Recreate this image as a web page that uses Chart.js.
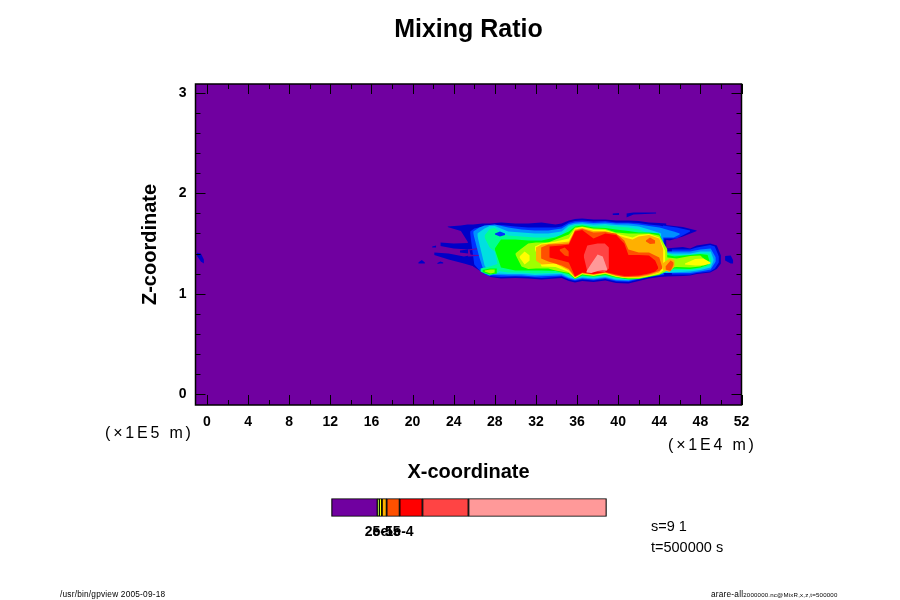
<!DOCTYPE html>
<html>
<head>
<meta charset="utf-8">
<title>Mixing Ratio</title>
<script src="https://cdn.jsdelivr.net/npm/chart.js@4"></script>
<style>
  html, body { margin: 0; padding: 0; background: #fff; }
  canvas { position: absolute; }
  .note { position: absolute; color: #000; white-space: nowrap; font-family: "Liberation Sans", sans-serif; }
  .unit { font-size: 16px; letter-spacing: 2.8px; font-weight: normal; }
  .info { font-size: 14.5px; }
  .tiny { font-size: 8.3px; letter-spacing: 0.2px; }
</style>
</head>
<body>
<canvas id="mainChart" width="900" height="600" style="left:0;top:0"></canvas>
<canvas id="barChart" width="300" height="50" style="left:320px;top:490px"></canvas>
<div class="note unit" style="left:105px;top:424px">(×1E5 m)</div>
<div class="note unit" style="left:668px;top:436px">(×1E4 m)</div>
<div class="note info" style="left:651px;top:518px">s=9 1</div>
<div class="note info" style="left:651px;top:539px">t=500000 s</div>
<div class="note tiny" style="left:60px;top:589px">/usr/bin/gpview 2005-09-18</div>
<div class="note tiny" style="left:711px;top:589px">arare-all<span style="font-size:6.1px">2000000.nc@MixR,x,z,t=500000</span></div>
<script>
// axis ticks, x in 1E4 m and z in 1E5 m
var xTicks = [0, 4, 8, 12, 16, 20, 24, 28, 32, 36, 40, 44, 48, 52];
var xMinor = [2, 6, 10, 14, 18, 22, 26, 30, 34, 38, 42, 46, 50];
var zTicks = [0, 1, 2, 3];
var zMinor = [0.2, 0.4, 0.6, 0.8, 1.2, 1.4, 1.6, 1.8, 2.2, 2.4, 2.6, 2.8];

// background level covers the whole domain
var bgX = [-1.12, 52];
var bgTop = [3.09, 3.09];
var bgBot = [-0.11, -0.11];

// contour levels: x, upper edge, lower edge
var l1X = [23.4, 24.7, 25.35, 25.9, 26.8, 27.6, 28.6, 30, 31.25, 32.55, 33.9, 34.5, 35.2, 35.8, 36.5, 37.6, 38.75, 39.8, 41, 42, 43, 44, 44.7];
var l1Top = [1.67, 1.68, 1.69, 1.69, 1.70, 1.70, 1.71, 1.70, 1.70, 1.71, 1.69, 1.70, 1.73, 1.745, 1.75, 1.74, 1.74, 1.73, 1.73, 1.725, 1.71, 1.705, 1.70];
var l1Bot = [1.665, 1.625, 1.52, 1.27, 1.21, 1.165, 1.15, 1.155, 1.15, 1.14, 1.15, 1.155, 1.125, 1.11, 1.125, 1.115, 1.13, 1.105, 1.10, 1.125, 1.15, 1.165, 1.17];
var l1WedgeX = [44, 45, 46.3, 47.65];
var l1WedgeTop = [1.69, 1.68, 1.665, 1.63];
var l1WedgeBot = [1.55, 1.53, 1.57, 1.625];
var l1LobeX = [44.6, 46.3, 47, 47.65, 48.95, 49.6, 50];
var l1LobeTop = [1.45, 1.465, 1.45, 1.48, 1.50, 1.48, 1.38];
var l1LobeBot = [1.17, 1.175, 1.18, 1.195, 1.21, 1.245, 1.30];

// thin fingers and small islands of the lowest level
var f1X = [22.7, 24, 25.4, 26.8];
var f1Top = [1.51, 1.50, 1.505, 1.52];
var f1Bot = [1.475, 1.45, 1.44, 1.45];
var f2X = [22.1, 23.5, 25, 26];
var f2Top = [1.41, 1.40, 1.37, 1.39];
var f2Bot = [1.385, 1.34, 1.30, 1.27];
var f3X = [24.6, 25.4];
var f3Top = [1.43, 1.44];
var f3Bot = [1.41, 1.40];
var d1X = [21.9, 22.3];
var d1Top = [1.47, 1.48];
var d1Bot = [1.46, 1.46];
var d2X = [20.55, 20.9, 21.2];
var d2Top = [1.31, 1.335, 1.31];
var d2Bot = [1.30, 1.30, 1.30];
var d3X = [22.4, 22.7, 23];
var d3Top = [1.305, 1.32, 1.31];
var d3Bot = [1.295, 1.30, 1.30];
var d4X = [40.8, 41.5, 43.7];
var d4Top = [1.80, 1.81, 1.81];
var d4Bot = [1.76, 1.79, 1.80];
var d5X = [39.45, 40.1];
var d5Top = [1.80, 1.805];
var d5Bot = [1.785, 1.785];
var d6X = [50.4, 50.95, 51.2];
var d6Top = [1.375, 1.38, 1.33];
var d6Bot = [1.33, 1.30, 1.30];
var d7X = [-1, -0.6, -0.3];
var d7Top = [1.41, 1.40, 1.34];
var d7Bot = [1.38, 1.32, 1.30];

var l2X = [25.6, 26, 26.65, 27.3, 28.6, 30, 31.25, 32.55, 33.9, 34.5, 35.2, 35.8, 36.5, 37.6, 38.75, 39.8, 41, 42, 43, 44, 44.5];
var l2Top = [1.62, 1.65, 1.665, 1.675, 1.685, 1.67, 1.66, 1.66, 1.66, 1.67, 1.71, 1.725, 1.73, 1.72, 1.725, 1.71, 1.71, 1.705, 1.69, 1.68, 1.67];
var l2Bot = [1.60, 1.29, 1.215, 1.175, 1.165, 1.17, 1.165, 1.155, 1.165, 1.17, 1.14, 1.125, 1.14, 1.13, 1.145, 1.12, 1.115, 1.14, 1.165, 1.18, 1.185];
var l2WedgeX = [44.35, 45.7, 47];
var l2WedgeTop = [1.68, 1.66, 1.63];
var l2WedgeBot = [1.55, 1.55, 1.62];
var l2LobeX = [45.2, 47, 47.65, 48.95, 49.4, 49.8];
var l2LobeTop = [1.44, 1.44, 1.46, 1.485, 1.47, 1.37];
var l2LobeBot = [1.19, 1.19, 1.205, 1.22, 1.25, 1.31];

// purple slits between the fingers
var slitAX = [25.4, 26.5, 26.9];
var slitATop = [1.44, 1.455, 1.46];
var slitABot = [1.43, 1.445, 1.455];
var slitBX = [25.4, 26.3, 26.9];
var slitBTop = [1.39, 1.385, 1.38];
var slitBBot = [1.37, 1.375, 1.375];

var l3X = [25.9, 26.5, 27, 28, 29.3, 30.6, 31.9, 33.2, 34.5, 35.2, 35.8, 36.5, 37.6, 38.75, 39.8, 41, 42, 43, 44, 44.4];
var l3Top = [1.62, 1.66, 1.68, 1.69, 1.66, 1.64, 1.63, 1.63, 1.65, 1.695, 1.71, 1.715, 1.705, 1.71, 1.70, 1.70, 1.69, 1.675, 1.66, 1.65];
var l3Bot = [1.60, 1.36, 1.20, 1.185, 1.18, 1.18, 1.17, 1.175, 1.18, 1.15, 1.135, 1.15, 1.14, 1.155, 1.13, 1.125, 1.15, 1.175, 1.19, 1.195];
var l3WedgeX = [44.35, 45.4, 46];
var l3WedgeTop = [1.65, 1.62, 1.60];
var l3WedgeBot = [1.56, 1.56, 1.59];
var l3LobeX = [44.6, 47, 48, 49, 49.5];
var l3LobeTop = [1.42, 1.42, 1.44, 1.45, 1.36];
var l3LobeBot = [1.205, 1.205, 1.22, 1.24, 1.32];

var l4X = [26.3, 27, 27.5, 28, 29.3, 30.6, 31.9, 33.2, 34.5, 35.2, 35.8, 36.5, 37.6, 38.75, 39.8, 41, 42, 43, 44.2];
var l4Top = [1.60, 1.65, 1.675, 1.675, 1.62, 1.61, 1.60, 1.60, 1.62, 1.68, 1.695, 1.70, 1.69, 1.695, 1.685, 1.68, 1.67, 1.64, 1.60];
var l4Bot = [1.58, 1.28, 1.205, 1.20, 1.195, 1.195, 1.185, 1.19, 1.195, 1.16, 1.145, 1.16, 1.15, 1.165, 1.14, 1.135, 1.16, 1.185, 1.205];
var l4LobeX = [44.2, 47, 48, 49, 49.3];
var l4LobeTop = [1.40, 1.40, 1.42, 1.42, 1.34];
var l4LobeBot = [1.205, 1.22, 1.235, 1.26, 1.33];

var l5X = [27, 27.5, 28, 28.4, 29.3, 30.6, 31.9, 33.2, 34.5, 35.2, 35.8, 36.5, 37.6, 38.75, 39.8, 41, 42, 43, 44];
var l5Top = [1.58, 1.645, 1.655, 1.62, 1.58, 1.57, 1.56, 1.56, 1.58, 1.66, 1.685, 1.69, 1.675, 1.68, 1.67, 1.66, 1.64, 1.60, 1.50];
var l5Bot = [1.56, 1.46, 1.42, 1.225, 1.21, 1.21, 1.20, 1.205, 1.205, 1.175, 1.155, 1.17, 1.16, 1.175, 1.15, 1.145, 1.165, 1.195, 1.215];
var l5LobeX = [44, 45.5, 47, 48, 48.9, 49.1];
var l5LobeTop = [1.43, 1.385, 1.385, 1.40, 1.40, 1.32];
var l5LobeBot = [1.215, 1.235, 1.235, 1.25, 1.275, 1.33];
var l5SpotX = [26.6, 27.5, 28.4];
var l5SpotTop = [1.25, 1.27, 1.30];
var l5SpotBot = [1.22, 1.18, 1.215];

var l6X = [28, 28.6, 30, 31.25, 32.55, 33.9, 35.2, 35.8, 36.5, 37.6, 38.75, 39.8, 41, 42, 43, 44, 44.6];
var l6Top = [1.45, 1.54, 1.54, 1.53, 1.53, 1.56, 1.62, 1.67, 1.68, 1.66, 1.655, 1.64, 1.625, 1.61, 1.61, 1.60, 1.46];
var l6Bot = [1.44, 1.26, 1.23, 1.23, 1.23, 1.225, 1.195, 1.145, 1.18, 1.17, 1.185, 1.16, 1.14, 1.145, 1.165, 1.185, 1.22];
var l6LobeX = [44, 45.5, 47, 48, 48.7, 48.9];
var l6LobeTop = [1.40, 1.37, 1.385, 1.395, 1.385, 1.32];
var l6LobeBot = [1.23, 1.25, 1.245, 1.26, 1.285, 1.33];
var l6SpotX = [26.8, 27.5, 28.2];
var l6SpotTop = [1.235, 1.25, 1.25];
var l6SpotBot = [1.215, 1.19, 1.20];
var pocketX = [28, 28.5, 29];
var pocketTop = [1.60, 1.62, 1.60];
var pocketBot = [1.59, 1.57, 1.585];

var l7X = [30, 30.6, 31.25, 32, 33.2, 33.9, 35.2, 35.8, 36.5, 37.6, 38.75, 39.8, 41, 42, 43, 44, 44.8];
var l7Top = [1.40, 1.45, 1.50, 1.51, 1.51, 1.54, 1.59, 1.66, 1.67, 1.65, 1.645, 1.61, 1.60, 1.60, 1.60, 1.58, 1.44];
var l7Bot = [1.39, 1.27, 1.245, 1.25, 1.25, 1.23, 1.205, 1.15, 1.19, 1.175, 1.195, 1.165, 1.15, 1.15, 1.17, 1.19, 1.23];
var l7LobeX = [44, 45.7, 47, 48, 48.5];
var l7LobeTop = [1.37, 1.35, 1.375, 1.38, 1.33];
var l7LobeBot = [1.245, 1.265, 1.26, 1.27, 1.30];
var l7SpotX = [27, 27.6, 28];
var l7SpotTop = [1.23, 1.24, 1.24];
var l7SpotBot = [1.22, 1.20, 1.21];

var l8X = [31.9, 32.55, 33.9, 35.2, 35.8, 36.5, 37.6, 38.75, 39.8, 40.6, 41.4, 42, 43, 44, 44.6];
var l8Top = [1.47, 1.50, 1.52, 1.55, 1.65, 1.665, 1.64, 1.635, 1.60, 1.58, 1.56, 1.585, 1.595, 1.56, 1.42];
var l8Bot = [1.44, 1.27, 1.265, 1.215, 1.155, 1.195, 1.18, 1.20, 1.17, 1.155, 1.155, 1.155, 1.175, 1.20, 1.25];
var l8SpotX = [30.4, 30.9, 31.4];
var l8SpotTop = [1.37, 1.42, 1.38];
var l8SpotBot = [1.36, 1.29, 1.33];
var l8LobeX = [46.5, 47.5, 48.3, 49];
var l8LobeTop = [1.30, 1.345, 1.35, 1.31];
var l8LobeBot = [1.29, 1.28, 1.28, 1.30];

var l9X = [32, 32.55, 33.9, 35.2, 35.8, 36.5, 37.6, 38.75, 39.8, 40.6, 41.4, 42, 43, 44, 44.4];
var l9Top = [1.46, 1.49, 1.505, 1.52, 1.64, 1.655, 1.625, 1.625, 1.59, 1.56, 1.54, 1.57, 1.585, 1.55, 1.44];
var l9Bot = [1.33, 1.29, 1.30, 1.23, 1.16, 1.20, 1.185, 1.205, 1.175, 1.16, 1.16, 1.16, 1.18, 1.21, 1.27];
var l9StripeX = [44.3, 45, 45.5];
var l9StripeTop = [1.30, 1.35, 1.33];
var l9StripeBot = [1.24, 1.215, 1.27];

var l10X = [32.5, 33.2, 34.5, 35.2, 35.8, 36.5, 37.6, 38.75, 39.8, 40.6, 41, 42, 43, 44, 44.3];
var l10Top = [1.46, 1.49, 1.495, 1.50, 1.63, 1.648, 1.61, 1.615, 1.60, 1.53, 1.44, 1.41, 1.41, 1.36, 1.26];
var l10Bot = [1.35, 1.32, 1.28, 1.245, 1.165, 1.205, 1.19, 1.21, 1.18, 1.165, 1.165, 1.17, 1.19, 1.225, 1.25];
var l10StripeX = [44.6, 45.1, 45.4];
var l10StripeTop = [1.27, 1.33, 1.31];
var l10StripeBot = [1.24, 1.225, 1.29];
var l10PatchX = [42.7, 43.1, 43.6];
var l10PatchTop = [1.53, 1.56, 1.53];
var l10PatchBot = [1.52, 1.495, 1.50];

var l11X = [33.3, 34.5, 35.2, 35.8, 36.5, 37.6, 38.75, 39.8, 40.6, 41, 42, 43, 43.6, 43.9];
var l11Top = [1.47, 1.48, 1.49, 1.62, 1.635, 1.55, 1.60, 1.585, 1.50, 1.385, 1.385, 1.38, 1.33, 1.26];
var l11Bot = [1.36, 1.33, 1.31, 1.17, 1.21, 1.195, 1.215, 1.19, 1.175, 1.175, 1.18, 1.20, 1.22, 1.25];
var armX = [34.3, 34.8, 35.2];
var armTop = [1.44, 1.46, 1.42];
var armBot = [1.43, 1.38, 1.37];

var l12X = [36.65, 37, 38, 38.7, 39.1];
var l12Top = [1.38, 1.48, 1.50, 1.50, 1.46];
var l12Bot = [1.37, 1.22, 1.22, 1.215, 1.25];

var l13X = [36.9, 37.4, 38, 38.5, 38.95];
var l13Top = [1.22, 1.30, 1.39, 1.37, 1.24];
var l13Bot = [1.21, 1.205, 1.225, 1.235, 1.23];

// colour bar edges, same level order
var barEdges = [-1.62e-4, 1.5e-5, 2.1e-5, 3.2e-5, 5e-5, 1e-4, 1.88e-4, 3.65e-4, 8.96e-4];
var barColors = ['#7000a0', '#a0ff00', '#ffff00', '#ffb000', '#ff5000', '#ff0000', '#ff4444', '#ff9999'];
var barTicks = [2e-5, 5e-5, 1e-4];
var barLabels = ['2e-5', '5e-5', '1e-4'];

var purple = '#7000a0', c1 = '#0000c8', c2 = '#0030ff', c3 = '#0090ff', c4 = '#00e0e0', c5 = '#00ff90',
    c6 = '#00ff00', c7 = '#a0ff00', c8 = '#ffff00', c9 = '#ffb000', c10 = '#ff5000', c11 = '#ff0000', c12 = '#ff4444', c13 = '#ff9999';

// painted in this order, each level over the one below
var bands = [
  [purple, bgX, bgTop, bgBot],
  [c1, l1X, l1Top, l1Bot], [c1, l1WedgeX, l1WedgeTop, l1WedgeBot], [c1, l1LobeX, l1LobeTop, l1LobeBot],
  [c1, f1X, f1Top, f1Bot], [c1, f2X, f2Top, f2Bot], [c1, f3X, f3Top, f3Bot],
  [c1, d1X, d1Top, d1Bot], [c1, d2X, d2Top, d2Bot], [c1, d3X, d3Top, d3Bot], [c1, d4X, d4Top, d4Bot],
  [c1, d5X, d5Top, d5Bot], [c1, d6X, d6Top, d6Bot], [c1, d7X, d7Top, d7Bot],
  [c2, l2X, l2Top, l2Bot], [c2, l2WedgeX, l2WedgeTop, l2WedgeBot], [c2, l2LobeX, l2LobeTop, l2LobeBot],
  [purple, slitAX, slitATop, slitABot], [purple, slitBX, slitBTop, slitBBot],
  [c3, l3X, l3Top, l3Bot], [c3, l3WedgeX, l3WedgeTop, l3WedgeBot], [c3, l3LobeX, l3LobeTop, l3LobeBot],
  [c4, l4X, l4Top, l4Bot], [c4, l4LobeX, l4LobeTop, l4LobeBot],
  [c5, l5X, l5Top, l5Bot], [c5, l5LobeX, l5LobeTop, l5LobeBot], [c5, l5SpotX, l5SpotTop, l5SpotBot],
  [c6, l6X, l6Top, l6Bot], [c6, l6LobeX, l6LobeTop, l6LobeBot], [c6, l6SpotX, l6SpotTop, l6SpotBot],
  [c2, pocketX, pocketTop, pocketBot],
  [c7, l7X, l7Top, l7Bot], [c7, l7LobeX, l7LobeTop, l7LobeBot], [c7, l7SpotX, l7SpotTop, l7SpotBot],
  [c8, l8X, l8Top, l8Bot], [c8, l8SpotX, l8SpotTop, l8SpotBot], [c8, l8LobeX, l8LobeTop, l8LobeBot],
  [c9, l9X, l9Top, l9Bot], [c9, l9StripeX, l9StripeTop, l9StripeBot],
  [c10, l10X, l10Top, l10Bot], [c10, l10StripeX, l10StripeTop, l10StripeBot], [c10, l10PatchX, l10PatchTop, l10PatchBot],
  [c11, l11X, l11Top, l11Bot], [c10, armX, armTop, armBot],
  [c12, l12X, l12Top, l12Bot],
  [c13, l13X, l13Top, l13Bot]
];

function toPoints(xs, zs) {
  var pts = [];
  for (var i = 0; i < xs.length; i++) pts.push({ x: xs[i], y: zs[i] });
  return pts;
}

var datasets = [];
bands.forEach(function (b, i) {
  // upper edge fills down to the lower edge, which is the next dataset
  datasets.push({ data: toPoints(b[1], b[2]), showLine: true, borderWidth: 0, pointRadius: 0, fill: '+1', backgroundColor: b[0], order: -i });
  datasets.push({ data: toPoints(b[1], b[3]), showLine: true, borderWidth: 0, pointRadius: 0, fill: false, order: -i });
});

// frame and inward tick marks on all four sides
var framePlugin = {
  id: 'frame',
  afterDraw: function (chart) {
    var ctx = chart.ctx, a = chart.chartArea, sx = chart.scales.x, sy = chart.scales.y;
    ctx.save();
    ctx.strokeStyle = '#000';
    ctx.lineWidth = 1;
    ctx.beginPath();
    function xMark(v, len) {
      var p = Math.round(sx.getPixelForValue(v)) + 0.5;
      ctx.moveTo(p, a.bottom); ctx.lineTo(p, a.bottom - len);
      ctx.moveTo(p, a.top); ctx.lineTo(p, a.top + len);
    }
    function zMark(v, len) {
      var p = Math.round(sy.getPixelForValue(v)) + 0.5;
      ctx.moveTo(a.left, p); ctx.lineTo(a.left + len, p);
      ctx.moveTo(a.right, p); ctx.lineTo(a.right - len, p);
    }
    xTicks.forEach(function (v) { xMark(v, 10); });
    xMinor.forEach(function (v) { xMark(v, 5); });
    zTicks.forEach(function (v) { zMark(v, 10); });
    zMinor.forEach(function (v) { zMark(v, 5); });
    ctx.stroke();
    ctx.lineWidth = 1.5;
    ctx.strokeRect(a.left, a.top, a.right - a.left, a.bottom - a.top);
    ctx.restore();
  }
};

var tickFont = { family: '"Liberation Sans"', size: 14, weight: 'bold' };
var axisFont = { family: '"Liberation Sans"', size: 20, weight: 'bold' };

new Chart(document.getElementById('mainChart').getContext('2d'), {
  type: 'scatter',
  data: { datasets: datasets },
  plugins: [framePlugin],
  options: {
    responsive: false,
    animation: false,
    layout: { padding: { left: 0, right: 158.5, top: 0, bottom: 0 } },
    plugins: {
      legend: { display: false },
      tooltip: { enabled: false },
      title: {
        display: true,
        text: 'Mixing Ratio',
        fullSize: false,
        color: '#000',
        font: { family: '"Liberation Sans"', size: 25, weight: 'bold' },
        padding: { top: 15, bottom: 39 }
      }
    },
    scales: {
      x: {
        type: 'linear',
        min: -1.12,
        max: 52,
        grid: { display: false, drawTicks: false },
        border: { display: false },
        afterBuildTicks: function (s) { s.ticks = xTicks.map(function (v) { return { value: v }; }); },
        afterFit: function (s) { s.height = 195; },
        ticks: { color: '#000', font: tickFont, padding: 9, autoSkip: false, maxRotation: 0, callback: function (v) { return String(v); } },
        title: { display: true, text: 'X-coordinate', color: '#000', font: axisFont, padding: { top: 0, bottom: 116 } }
      },
      y: {
        type: 'linear',
        min: -0.11,
        max: 3.09,
        grid: { display: false, drawTicks: false },
        border: { display: false },
        afterBuildTicks: function (s) { s.ticks = zTicks.map(function (v) { return { value: v }; }); },
        afterFit: function (s) { s.width = 195.5; },
        ticks: { color: '#000', font: tickFont, padding: 9, autoSkip: false, callback: function (v) { return String(v); } },
        title: { display: true, text: 'Z-coordinate', color: '#000', font: axisFont, padding: { top: 138, bottom: 0 } }
      }
    }
  }
});

var barSets = barColors.map(function (c, i) {
  return { data: [[barEdges[i], barEdges[i + 1]]], backgroundColor: c, borderColor: '#000', borderWidth: 1.2, borderSkipped: false, barPercentage: 1, categoryPercentage: 1, grouped: false, clip: false };
});

new Chart(document.getElementById('barChart').getContext('2d'), {
  type: 'bar',
  data: { labels: ['level'], datasets: barSets },
  options: {
    indexAxis: 'y',
    responsive: false,
    animation: false,
    layout: { padding: { left: 11.5, right: 13.5, top: 8.5, bottom: 0 } },
    plugins: { legend: { display: false }, tooltip: { enabled: false } },
    scales: {
      y: { display: false },
      x: {
        type: 'linear',
        min: barEdges[0],
        max: barEdges[barEdges.length - 1],
        grid: { display: false, drawTicks: false },
        border: { display: false },
        afterBuildTicks: function (s) { s.ticks = barTicks.map(function (v) { return { value: v }; }); },
        afterFit: function (s) { s.height = 23.5; },
        ticks: {
          color: '#000', font: tickFont, padding: 7, autoSkip: false, maxRotation: 0,
          callback: function (v) { return barLabels[barTicks.indexOf(v)]; }
        }
      }
    }
  }
});
</script>
</body>
</html>
